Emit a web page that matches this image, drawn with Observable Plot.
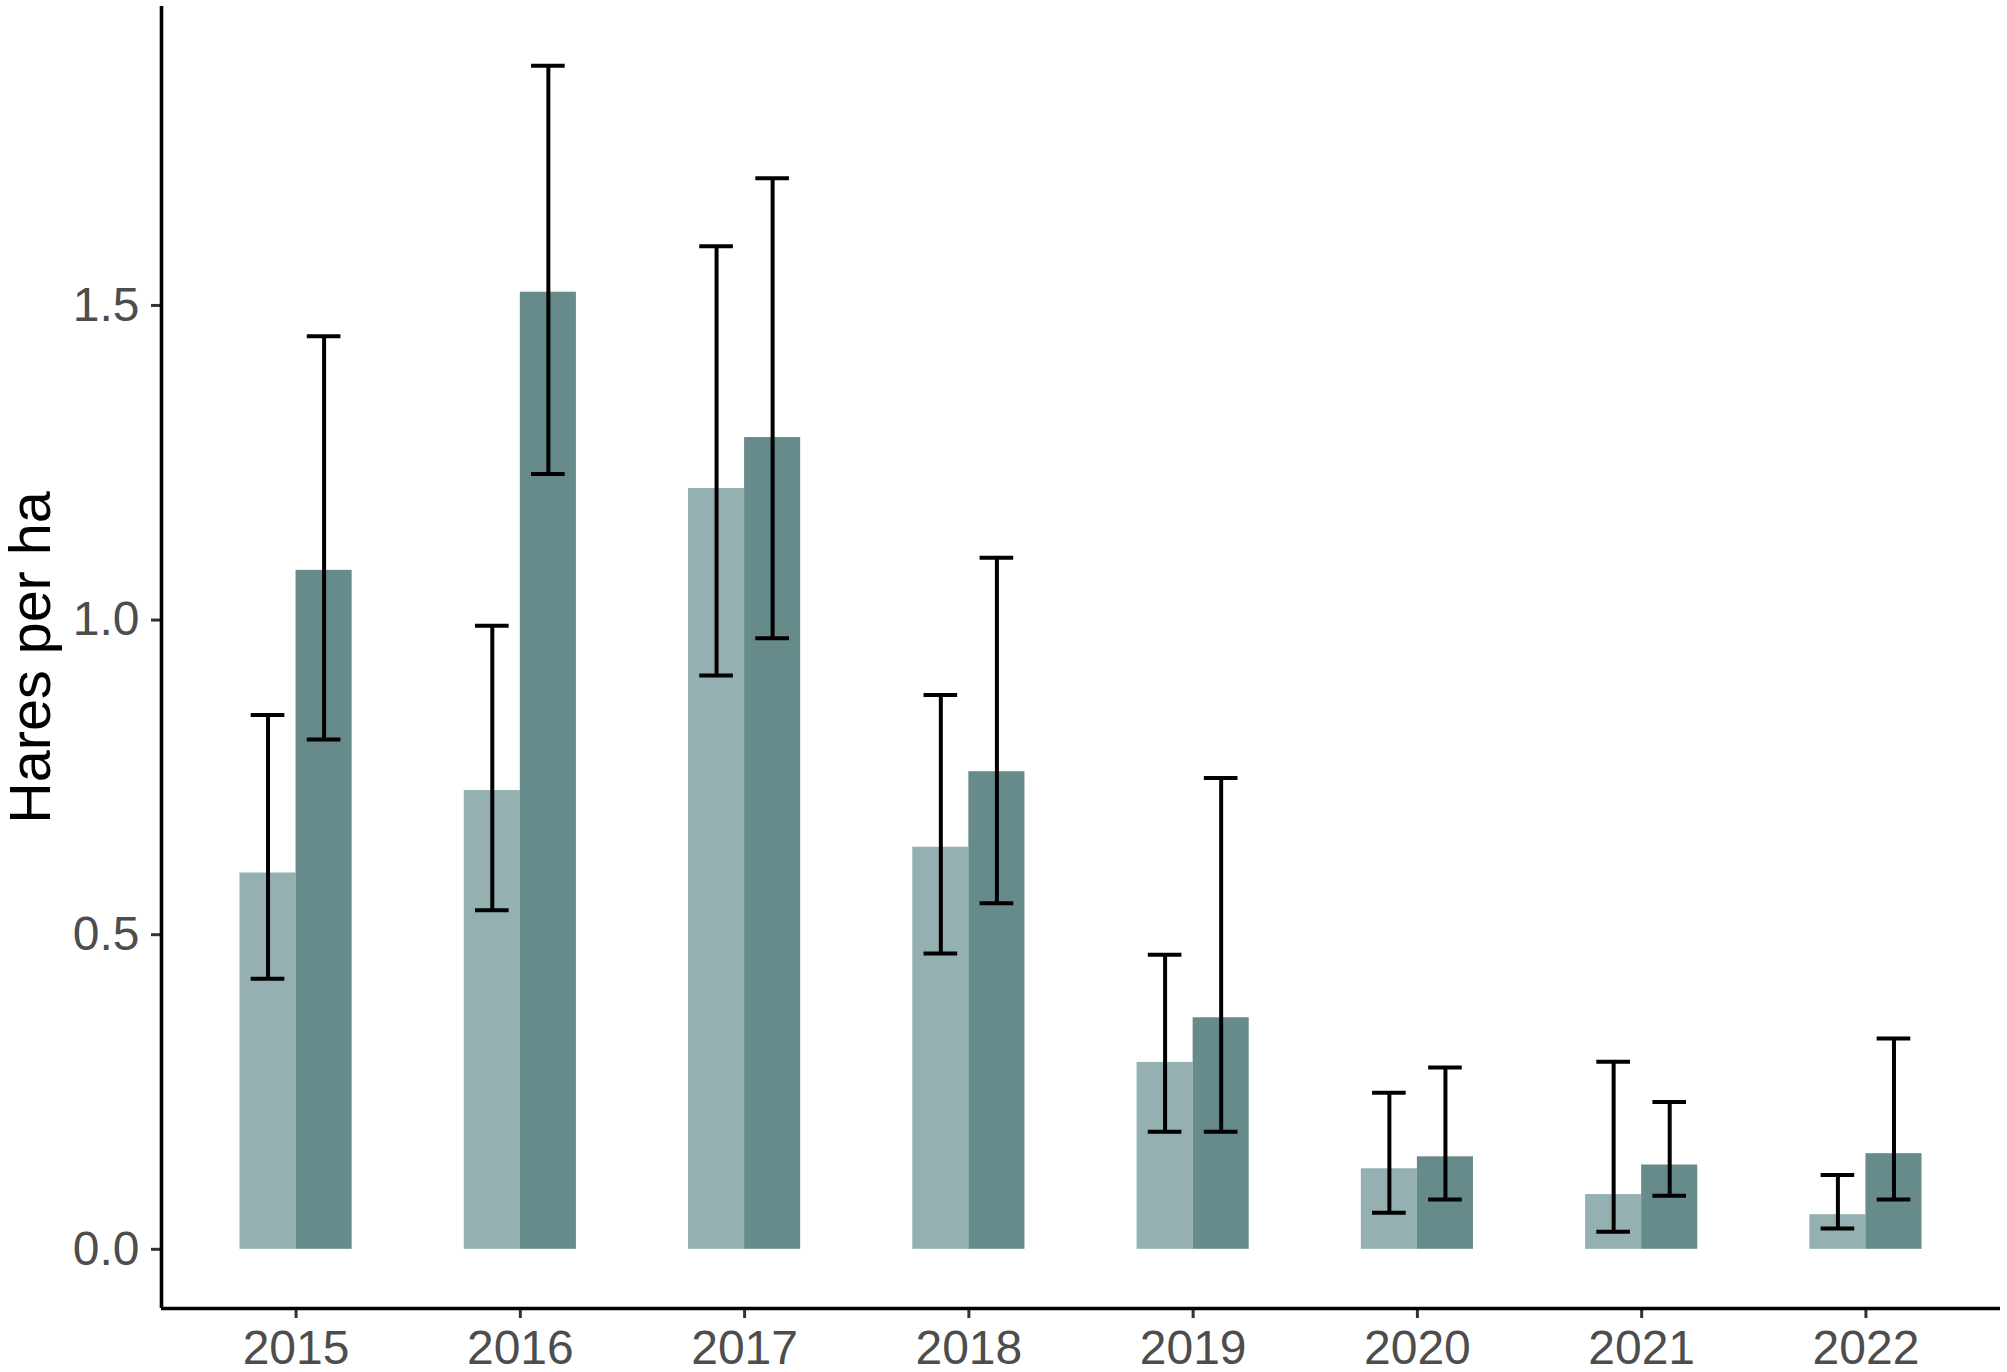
<!DOCTYPE html>
<html>
<head>
<meta charset="utf-8">
<script src="https://cdn.jsdelivr.net/npm/d3@7"></script>
<script src="https://cdn.jsdelivr.net/npm/@observablehq/plot@0.6"></script>
<style>
  html, body { margin: 0; padding: 0; background: #ffffff; }
  #chart svg { display: block; }
</style>
</head>
<body>
<div id="chart"></div>
<script>
// ---- Data ----
const years = [2015, 2016, 2017, 2018, 2019, 2020, 2021, 2022];
const groups = ["Group A", "Group B"];
const groupColors = ["#94b0b1", "#668b8a"];

const meanA = [0.598, 0.729, 1.209, 0.639, 0.297, 0.128, 0.087, 0.055];
const lowA  = [0.430, 0.539, 0.912, 0.470, 0.187, 0.058, 0.028, 0.033];
const highA = [0.849, 0.991, 1.594, 0.881, 0.468, 0.249, 0.298, 0.118];

const meanB = [1.079, 1.521, 1.290, 0.759, 0.368, 0.147, 0.134, 0.152];
const lowB  = [0.810, 1.232, 0.971, 0.550, 0.187, 0.079, 0.085, 0.079];
const highB = [1.451, 1.881, 1.702, 1.099, 0.749, 0.289, 0.234, 0.335];

const yTicks = [0, 0.5, 1.0, 1.5];
const yLabel = "Hares per ha";

// ---- Layout parameters (dodge like ggplot position_dodge) ----
const dodgeWidth = 0.5;          // total width of a pair of bars, in category units
const capWidth = 0.15;           // error bar cap width, in category units
const barW = dodgeWidth / groups.length;

const data = years.flatMap((year, i) => [
  {year, group: groups[0], k: 0, mean: meanA[i], lo: lowA[i], hi: highA[i]},
  {year, group: groups[1], k: 1, mean: meanB[i], lo: lowB[i], hi: highB[i]}
]).map(d => {
  const x1 = d.year - dodgeWidth / 2 + d.k * barW;
  return {...d, x1, x2: x1 + barW, xc: x1 + barW / 2};
});

// ggplot-like expansions: discrete 0.6 units, continuous 5%
const xDomain = [years[0] - 0.6, years[years.length - 1] + 0.6];
const yMin = Math.min(0, d3.min(data, d => d.lo));
const yMax = d3.max(data, d => d.hi);
const yPad = (yMax - yMin) * 0.05;
const yDomain = [yMin - yPad, yMax + yPad];

const chart = Plot.plot({
  width: 2007,
  height: 1372,
  marginLeft: 161,
  marginRight: 7,
  marginTop: 6,
  marginBottom: 64,
  style: {fontFamily: "'Liberation Sans', Arial, sans-serif", background: "#ffffff", overflow: "visible"},
  x: {type: "linear", domain: xDomain},
  y: {domain: yDomain},
  color: {domain: groups, range: groupColors},
  marks: [
    Plot.rectY(data, {x1: "x1", x2: "x2", y1: 0, y2: "mean", fill: "group"}),
    Plot.ruleX(data, {x: "xc", y1: "lo", y2: "hi", stroke: "#000000", strokeWidth: 4}),
    Plot.ruleY(data, {y: "lo", x1: d => d.xc - capWidth / 2, x2: d => d.xc + capWidth / 2, stroke: "#000000", strokeWidth: 4}),
    Plot.ruleY(data, {y: "hi", x1: d => d.xc - capWidth / 2, x2: d => d.xc + capWidth / 2, stroke: "#000000", strokeWidth: 4}),
    Plot.axisX({
      ticks: years, tickFormat: d => String(d), tickSize: 10, tickPadding: 11,
      fontSize: 48, fill: "#4d4d4d", stroke: "#333333", strokeWidth: 3, label: null
    }),
    Plot.axisY({
      ticks: yTicks, tickFormat: d3.format(".1f"), tickSize: 10, tickPadding: 12,
      fontSize: 48, fill: "#4d4d4d", stroke: "#333333", strokeWidth: 3, label: null
    }),
    Plot.text([yLabel], {
      frameAnchor: "left", rotate: -90, dx: -129.5, fontSize: 57.5,
      fill: "#000000", textAnchor: "middle", lineAnchor: "middle"
    }),
    Plot.ruleX([xDomain[0]], {stroke: "#000000", strokeWidth: 3.6}),
    Plot.ruleY([yDomain[0]], {stroke: "#000000", strokeWidth: 3.6})
  ]
});
document.getElementById("chart").appendChild(chart);
</script>
</body>
</html>
